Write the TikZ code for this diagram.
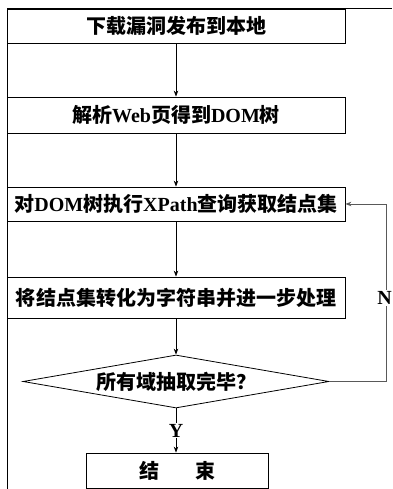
\documentclass[tikz,border=0pt]{standalone}
\usepackage{fontspec}
\setmainfont{Liberation Serif}
\newfontfamily\cjk{Noto Sans CJK SC}
\usetikzlibrary{arrows.meta,shapes.geometric}
\begin{document}
\begin{tikzpicture}[x=1pt,y=1pt,line width=0.8pt,
  txt/.style={font=\bfseries\fontsize{20}{20}\selectfont},
  box/.style={draw,rectangle,inner sep=0pt,txt},
  dec/.style={draw,diamond,inner sep=0pt,minimum width=306pt,minimum height=53pt,aspect=5.8,txt},
  arr/.style={-{Stealth[length=6pt,width=4.5pt]}},
  lbl/.style={fill=white,inner sep=1pt,font=\bfseries\fontsize{20}{20}\selectfont}]
\useasboundingbox (0,0) rectangle (392,489);
% frame lines
\draw[line width=1pt] (7,0) -- (7,480) -- (392,480);
\node[box,minimum width=338pt,minimum height=34pt] (b1) at (176,463) {\cjk 下载漏洞发布到本地};
\node[box,minimum width=338pt,minimum height=36pt] (b2) at (176,374) {{\cjk 解析}Web{\cjk 页得到}DOM{\cjk 树}};
\node[box,minimum width=338pt,minimum height=34pt] (b3) at (176,285) {{\cjk 对}DOM{\cjk 树执行}XPath{\cjk 查询获取结点集}};
\node[box,minimum width=338pt,minimum height=41pt] (b4) at (176,191.5) {\cjk 将结点集转化为字符串并进一步处理};
\node[dec] (d) at (176,107.5) {\cjk 所有域抽取完毕？};
\node[box,minimum width=182pt,minimum height=35pt] (e) at (177,18.5) {{\cjk 结}\hspace{1.8em}{\cjk 束}};
\draw[arr] (b1.south) -- (b2.north);
\draw[arr] (b2.south) -- (b3.north);
\draw[arr] (b3.south) -- (b4.north);
\draw[arr] (b4.south) -- (d.north);
\draw[arr] (d.south) -- node[lbl] (y) {Y} (d.south |- e.north);
\coordinate (fc) at (386,107.5);
\draw[arr,draw=black!65] (d.east) -- (fc) -- (fc |- b3.east) -- (b3.east);
\node[lbl,anchor=center] (n) at (384.5,191) {N};
\end{tikzpicture}
\end{document}
